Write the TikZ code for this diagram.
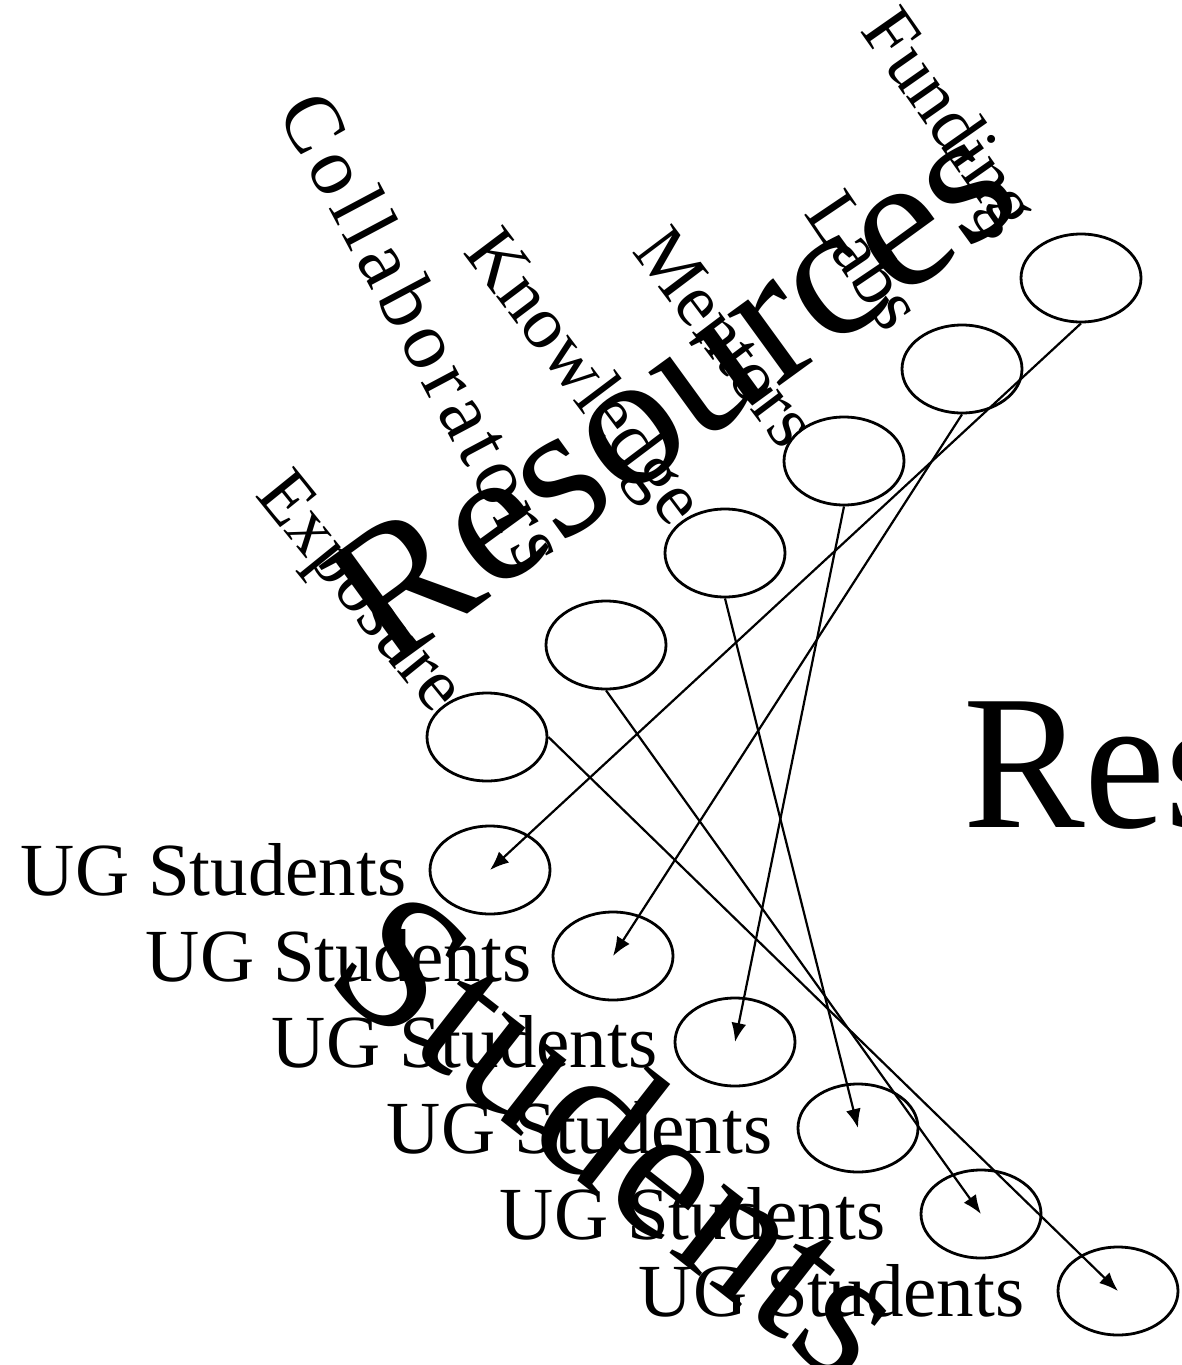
\documentclass[tikz,border=0pt]{standalone}
\usepackage{fontspec}
\setmainfont{Liberation Serif}
\usetikzlibrary{shapes.geometric,arrows.meta}
\tikzset{
  ell/.style={draw, ellipse, minimum width=120pt, minimum height=88pt, inner sep=0pt, line width=2.8pt},
  lbl/.style={font=\fontsize{75}{80}\selectfont, inner sep=0pt},
  big/.style={font=\fontsize{192}{200}\selectfont, inner sep=0pt},
  arr/.style={-{Latex[length=19pt,width=15pt]}, line width=2.2pt}
}
\begin{document}
\begin{tikzpicture}[x=1pt,y=-1pt]
\useasboundingbox (0,0) rectangle (1181,1365);
\clip (0,0) rectangle (1181,1365);
% resource ellipses
\node[ell] (fund) at (1081,278) {};
\node[ell] (labs) at (962,369) {};
\node[ell] (ment) at (844,461) {};
\node[ell] (know) at (725,553) {};
\node[ell] (coll) at (606,645) {};
\node[ell] (expo) at (487,737) {};
% resource labels
\node[lbl, rotate=-55] (tfund) at (946,123) {Funding};
\node[lbl, rotate=-56] (tlabs) at (866,260) {Labs};
\node[lbl, rotate=-53] (tment) at (726,337) {Mentors};
\node[lbl, rotate=-53] (tknow) at (581,380) {Knowledge};
\node[lbl, font=\fontsize{82}{90}\selectfont\addfontfeatures{LetterSpace=8}, rotate=-62] (tcoll) at (425,330) {Collaborators};
\node[lbl, rotate=-51] (texpo) at (357,595) {Exposure};
% student ellipses
\node[ell] (s1) at (490,870) {};
\node[ell] (s2) at (613,956) {};
\node[ell] (s3) at (735,1042) {};
\node[ell] (s4) at (858,1128) {};
\node[ell] (s5) at (981,1214) {};
\node[ell] (s6) at (1118,1291) {};
% student labels
\node[lbl, anchor=east] (u1) at ([xshift=-22pt]s1.west) {UG Students};
\node[lbl, anchor=east] (u2) at ([xshift=-20pt]s2.west) {UG Students};
\node[lbl, anchor=east] (u3) at ([xshift=-16pt]s3.west) {UG Students};
\node[lbl, anchor=east] (u4) at ([xshift=-24pt]s4.west) {UG Students};
\node[lbl, anchor=east] (u5) at ([xshift=-34pt]s5.west) {UG Students};
\node[lbl, anchor=east] (u6) at ([xshift=-32pt]s6.west) {UG Students};
% big titles
\node[big, rotate=36] (tres) at (671,389) {Resources};
\node[big, rotate=-38] (tstu) at (623,1133) {Students};
\node[big, anchor=base west] (tright) at (963,827) {\scalebox{0.95}[1]{Res}};
% arrows
\draw[arr] (fund.south) -- (s1.center);
\draw[arr] (labs.south) -- (s2.center);
\draw[arr] (ment.south) -- (s3.center);
\draw[arr] (know.south) -- (s4.center);
\draw[arr] (coll.south) -- (s5.center);
\draw[arr] (expo.east) -- (s6.center);
\end{tikzpicture}
\end{document}
